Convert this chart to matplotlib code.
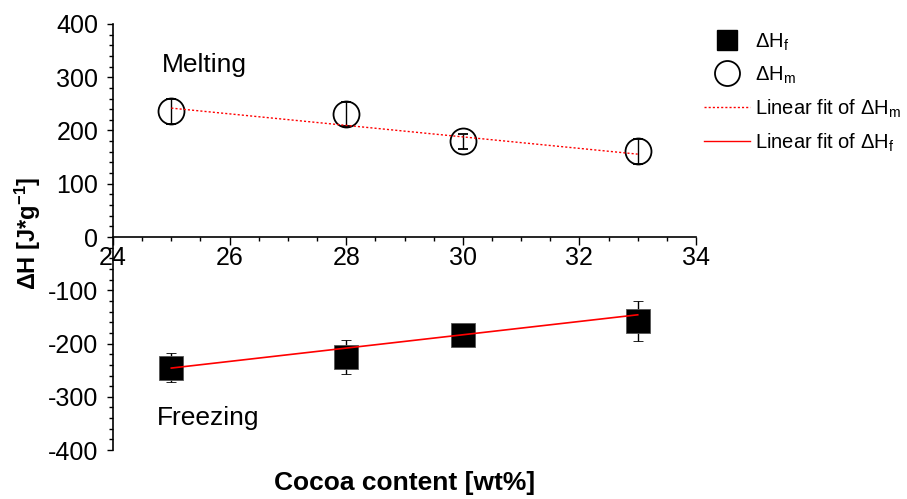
import numpy as np
import matplotlib
matplotlib.use('Agg')
import matplotlib.pyplot as plt
from matplotlib.lines import Line2D
from matplotlib.ticker import MultipleLocator

plt.rcParams['font.family'] = ['Liberation Sans', 'DejaVu Sans']
plt.rcParams['mathtext.fontset'] = 'custom'
plt.rcParams['mathtext.rm'] = 'Liberation Sans'
plt.rcParams['mathtext.it'] = 'Liberation Sans:italic'
plt.rcParams['mathtext.bf'] = 'Liberation Sans:bold'
plt.rcParams['axes.unicode_minus'] = False

# --- data ---
cocoa = [25, 28, 30, 33]
dh_melt = [236, 231, 180, 161]
dh_melt_err = [24, 23, 14, 23]
dh_freeze = [-245, -225, -183, -158]
dh_freeze_err = [27, 32, 10, 38]

# linear fit coefficients (slope, intercept)
fit_melt = [-10.8, 512.0]
fit_freeze = [12.5, -558.5]

fig = plt.figure(figsize=(9.07, 4.99), dpi=100)
ax = fig.add_axes([0.1246, 0.098, 0.6428, 0.854])

xf = np.array([cocoa[0], cocoa[-1]])
ax.plot(xf, np.polyval(fit_melt, xf), ls=(0, (1.5, 1.5)), color='red', lw=1, zorder=3)
ax.plot(xf, np.polyval(fit_freeze, xf), ls='-', color='red', lw=1.2, zorder=3)

ax.errorbar(cocoa, dh_melt, yerr=dh_melt_err, fmt='o', ms=18.7, mfc='none',
            mec='black', mew=1.3, ecolor='black', elinewidth=1, capsize=3.5, zorder=2)
ax.errorbar(cocoa, dh_freeze, yerr=dh_freeze_err, fmt='s', ms=17, mfc='black',
            mec='#555555', mew=0.6, ecolor='black', elinewidth=1, capsize=3.5, zorder=2)

ax.set_xlim(24, 34)
ax.set_ylim(-400, 400)
ax.xaxis.set_major_locator(MultipleLocator(2))
ax.xaxis.set_minor_locator(MultipleLocator(0.5))
ax.yaxis.set_major_locator(MultipleLocator(100))
ax.yaxis.set_minor_locator(MultipleLocator(20))

ax.spines['top'].set_visible(False)
ax.spines['right'].set_visible(False)
ax.spines['bottom'].set_position(('data', 0))
for s in ('left', 'bottom'):
    ax.spines[s].set_linewidth(1.2)

ax.tick_params(axis='x', which='major', direction='out', length=5.5, width=1,
               labelsize=18, pad=1)
ax.tick_params(axis='x', which='minor', direction='out', length=3, width=1)
ax.tick_params(axis='y', which='major', direction='out', length=4.5, width=1,
               labelsize=18, pad=6)
ax.tick_params(axis='y', which='minor', direction='out', length=3, width=1)

ax.set_ylabel('ΔH [J*g$^{\\mathbf{-1}}$]', fontsize=17, fontweight='bold')
ax.yaxis.set_label_coords(-0.12, 0.509)
fig.text(404.5 / 907, 1 - 483 / 499, 'Cocoa content [wt%]', fontsize=19,
         fontweight='bold', ha='center', va='center')

ax.text(24.835, 323, 'Melting', fontsize=19, ha='left', va='center')
ax.text(24.75, -340, 'Freezing', fontsize=19, ha='left', va='center')

handles = [
    Line2D([], [], ls='none', marker='s', ms=15, mfc='black', mec='black'),
    Line2D([], [], ls='none', marker='o', ms=18, mfc='none', mec='black', mew=1.3),
    Line2D([], [], ls=(0, (1.5, 1.5)), color='red', lw=1),
    Line2D([], [], ls='-', color='red', lw=1),
]
labels = ['ΔH$_\\mathrm{f}$', 'ΔH$_\\mathrm{m}$',
          'Linear fit of ΔH$_\\mathrm{m}$', 'Linear fit of ΔH$_\\mathrm{f}$']
fig.legend(handles, labels, loc='upper left', bbox_to_anchor=(0.7675, 0.953),
           frameon=False, fontsize=14.5, handlelength=2.3, handletextpad=0.2,
           labelspacing=0.58, borderaxespad=0)

fig.savefig('out.png', dpi=100)
